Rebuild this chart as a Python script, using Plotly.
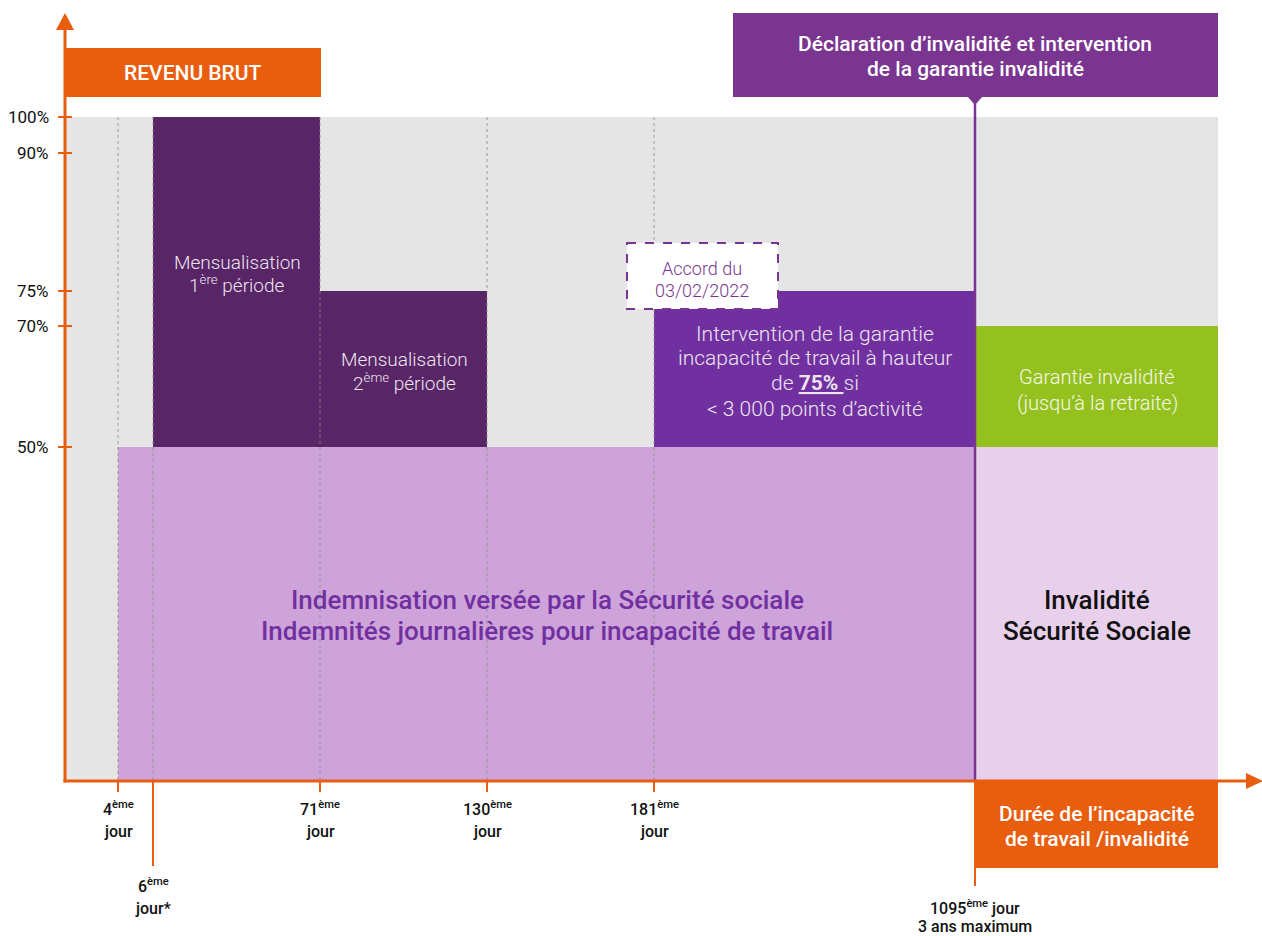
import plotly.graph_objects as go

# ---------------- DATA ----------------
period_names = ["Indemnisation Sécurité sociale", "Mensualisation 1ère période",
                "Mensualisation 2ème période", "Garantie incapacité de travail",
                "Invalidité Sécurité Sociale", "Garantie invalidité"]
start_day = [4, 6, 71, 181, 1095, 1095]
end_day = [1095, 71, 130, 1095, "retraite", "retraite"]
low_pct = [0, 50, 50, 50, 0, 50]
high_pct = [50, 100, 75, 75, 50, 70]

pct_ticks = [100, 90, 75, 70, 50]
pct_labels = ["100%", "90%", "75%", "70%", "50%"]

day_ticks = [4, 6, 71, 130, 181, 1095]
day_labels_1 = ["4<sup>ème</sup>", "6<sup>ème</sup>", "71<sup>ème</sup>", "130<sup>ème</sup>",
                "181<sup>ème</sup>", "1095<sup>ème</sup> jour"]
day_labels_2 = ["jour", "jour*", "jour", "jour", "jour", "3 ans maximum"]
dotted_days = [4, 6, 71, 130, 181]

# ---------------- SCHEMATIC SCALES (non proportional axes) ----------------
X_POS = {0: 65, 4: 118, 6: 153, 71: 320, 130: 487, 181: 654, 1095: 975, "retraite": 1218}
Y_POS = {0: 781, 50: 447, 70: 326, 75: 291, 90: 153, 100: 117}
def xp(d): return X_POS[d]
def yp(p): return Y_POS[p]

ORANGE = "#E95D0F"
DARK = "#582566"
BRIGHT = "#7030A0"
TOPBOX = "#7A3590"
LIGHT = "#CEA3DA"
PALE = "#E8D0EC"
GREEN = "#95C11F"
GRAY = "#E5E5E5"
bar_colors = [LIGHT, DARK, DARK, BRIGHT, PALE, GREEN]
FONT = "Roboto"

fig = go.Figure()

for name, s, e, lo, hi, c in zip(period_names, start_day, end_day, low_pct, high_pct, bar_colors):
    x0, x1 = xp(s), xp(e)
    y0, y1 = yp(lo), yp(hi)
    fig.add_trace(go.Bar(x=[(x0 + x1) / 2], width=[x1 - x0], base=[y0], y=[y1 - y0],
                         marker=dict(color=c, line=dict(width=0)), name=name,
                         hoverinfo="skip", showlegend=False))

shapes = []
shapes.append(dict(type="rect", xref="x", yref="y", x0=xp(0), x1=xp("retraite"),
                   y0=yp(0), y1=yp(100), fillcolor=GRAY, line=dict(width=0), layer="below"))
for d in dotted_days:
    shapes.append(dict(type="line", xref="x", yref="y", x0=xp(d), x1=xp(d), y0=yp(100), y1=yp(0),
                       line=dict(color="rgba(140,140,140,0.55)", width=1.5, dash="dot"), layer="above"))
shapes.append(dict(type="line", xref="x", yref="y", x0=xp(1095), x1=xp(1095), y0=97, y1=yp(0),
                   line=dict(color=TOPBOX, width=2.5), layer="above"))
shapes.append(dict(type="line", xref="x", yref="y", x0=xp(0), x1=xp(0), y0=yp(0) + 1.5, y1=26,
                   line=dict(color=ORANGE, width=3), layer="above"))
shapes.append(dict(type="path", xref="x", yref="y",
                   path=f"M {xp(0)-9},30 L {xp(0)},13 L {xp(0)+9},30 Z",
                   fillcolor=ORANGE, line=dict(width=0), layer="above"))
shapes.append(dict(type="line", xref="x", yref="y", x0=xp(0) - 1.5, x1=1252, y0=yp(0), y1=yp(0),
                   line=dict(color=ORANGE, width=3), layer="above"))
shapes.append(dict(type="path", xref="x", yref="y",
                   path=f"M 1246,{yp(0)-8} L 1263,{yp(0)} L 1246,{yp(0)+8} Z",
                   fillcolor=ORANGE, line=dict(width=0), layer="above"))
for p in pct_ticks:
    shapes.append(dict(type="line", xref="x", yref="y", x0=xp(0) - 7, x1=xp(0) + 7, y0=yp(p), y1=yp(p),
                       line=dict(color=ORANGE, width=2), layer="above"))
tick_len = {4: 792, 6: 866, 71: 792, 130: 792, 181: 792, 1095: 886}
for d in day_ticks:
    shapes.append(dict(type="line", xref="x", yref="y", x0=xp(d), x1=xp(d), y0=yp(0), y1=tick_len[d],
                       line=dict(color=ORANGE, width=2), layer="above"))
shapes.append(dict(type="rect", xref="x", yref="y", x0=xp(0), x1=321, y0=48, y1=97,
                   fillcolor=ORANGE, line=dict(width=0), layer="above"))
shapes.append(dict(type="rect", xref="x", yref="y", x0=733, x1=1218, y0=13, y1=97,
                   fillcolor=TOPBOX, line=dict(width=0), layer="above"))
shapes.append(dict(type="path", xref="x", yref="y",
                   path=f"M {xp(1095)-8},96 L {xp(1095)},105 L {xp(1095)+8},96 Z",
                   fillcolor=TOPBOX, line=dict(width=0), layer="above"))
shapes.append(dict(type="rect", xref="x", yref="y", x0=xp(1095), x1=1218, y0=yp(0) + 1, y1=868,
                   fillcolor=ORANGE, line=dict(width=0), layer="above"))
shapes.append(dict(type="rect", xref="x", yref="y", x0=627, x1=778, y0=243, y1=309,
                   fillcolor="white", line=dict(color=TOPBOX, width=2, dash="dash"), layer="above"))

ann = []
def label(x, y, text, size, color, weight="normal", xanchor="center"):
    ann.append(dict(x=x, y=y, xref="x", yref="y", text=text, showarrow=False,
                    xanchor=xanchor, yanchor="middle", align="center",
                    font=dict(family=FONT, size=size, color=color, weight=weight)))

for p, t in zip(pct_ticks, pct_labels):
    label(51, yp(p), t, 17, "#111111", xanchor="right")

for d, l1, l2 in zip(day_ticks, day_labels_1, day_labels_2):
    if d == 6:
        y1, y2 = 885, 908
    elif d == 1095:
        y1, y2 = 907, 926
    else:
        y1, y2 = 808, 831
    label(xp(d), y1, l1, 16, "#111111", weight=500)
    label(xp(d), y2, l2, 16, "#111111", weight=500)

label(193, 73, "REVENU BRUT", 21, "white", weight=500)
label(975, 44, "Déclaration d’invalidité et intervention", 21, "white", weight=500)
label(975, 69, "de la garantie invalidité", 21, "white", weight=500)
label(1097, 814, "Durée de l’incapacité", 21, "white", weight=500)
label(1097, 839, "de travail /invalidité", 21, "white", weight=500)

LT = "#EDE4F0"
label(237, 262, "Mensualisation", 19, LT, weight=300)
label(237, 284, "1<sup>ère</sup> période", 19, LT, weight=300)
label(404, 359, "Mensualisation", 19, LT, weight=300)
label(404, 382, "2<sup>ème</sup> période", 19, LT, weight=300)
label(702, 268, "Accord du", 18, TOPBOX, weight=300)
label(702, 290, "03/02/2022", 18, TOPBOX, weight=300)
label(815, 334, "Intervention de la garantie", 21, LT, weight=300)
label(815, 358, "incapacité de travail à hauteur", 21, LT, weight=300)
label(815, 383, "de <b><u>75% </u></b>si", 21, LT, weight=300)
label(815, 409, "< 3 000 points d’activité", 21, LT, weight=300)
label(1097, 377, "Garantie invalidité", 20, "#F4F8E8", weight=300)
label(1097, 403, "(jusqu’à la retraite)", 20, "#F4F8E8", weight=300)
label(547, 600, "Indemnisation versée par la Sécurité sociale", 26, BRIGHT, weight=500)
label(547, 631, "Indemnités journalières pour incapacité de travail", 26, BRIGHT, weight=500)
label(1097, 600, "Invalidité", 26, "#111111", weight=500)
label(1097, 631, "Sécurité Sociale", 26, "#111111", weight=500)

fig.update_layout(
    width=1262, height=936, autosize=False,
    margin=dict(l=0, r=0, t=0, b=0),
    paper_bgcolor="white", plot_bgcolor="white",
    barmode="overlay", showlegend=False,
    xaxis=dict(range=[0, 1262], visible=False, fixedrange=True),
    yaxis=dict(range=[936, 0], visible=False, fixedrange=True),
    shapes=shapes, annotations=ann,
    font=dict(family=FONT),
)

fig.write_html("out.html", config={"displayModeBar": False, "staticPlot": True},
               post_script="document.body.style.margin='0';")
